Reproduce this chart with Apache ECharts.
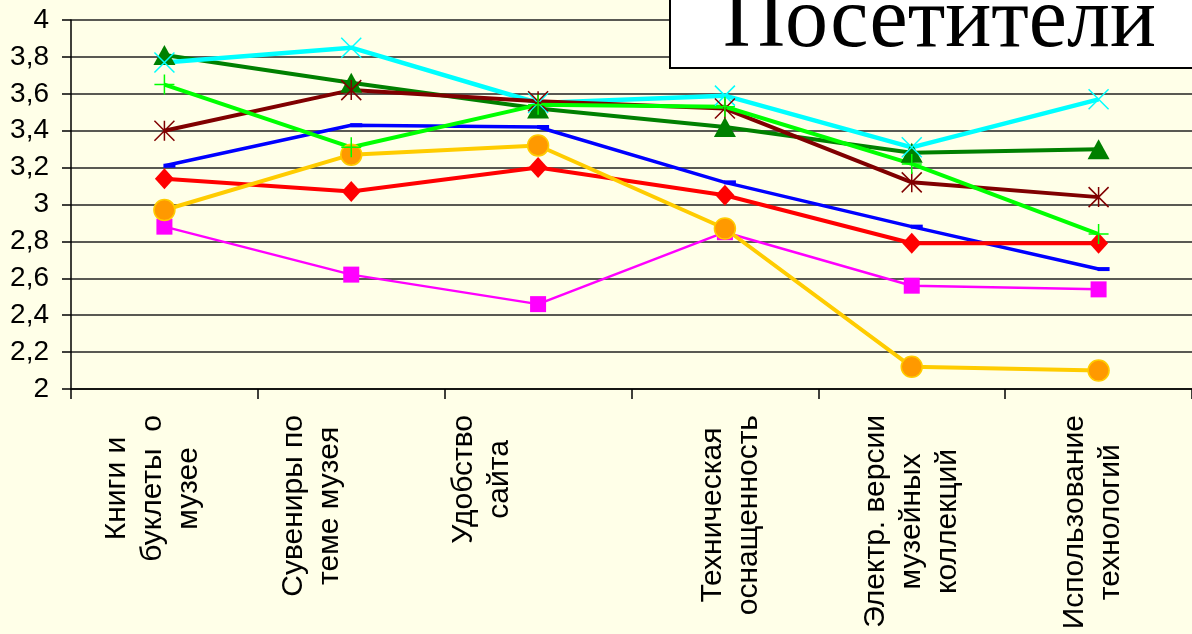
<!DOCTYPE html>
<html>
<head>
<meta charset="utf-8">
<script src="https://cdn.jsdelivr.net/npm/echarts@6/dist/echarts.min.js"></script>
<style>
html,body{margin:0;padding:0;background:#FFFFE8;}
#chart{width:1192px;height:634px;}
</style>
</head>
<body>
<div id="chart"></div>
<script>
const categories = [
  'Книги и\nбуклеты  о\nмузее',
  'Сувениры по\nтеме музея',
  'Удобство\nсайта',
  'Техническая\nоснащенность',
  'Электр. версии\nмузейных\nколлекций',
  'Использование\nтехнологий'
];
// [top, bottom] padding of each rotated label
const labelPad = [[0, 24], [0, 80], [0, 112], [12, 0], [0, 0], [0, 12]];
const yTicks = { min: 2, max: 4, step: 0.2 };
const titleText = 'Посетители';

const blueValues = [3.21, 3.43, 3.42, 3.12, 2.88, 2.65];
const redValues = [3.14, 3.07, 3.20, 3.05, 2.79, 2.79];
const magentaValues = [2.88, 2.62, 2.46, 2.85, 2.56, 2.54];
const orangeValues = [2.97, 3.27, 3.32, 2.87, 2.12, 2.10];
const darkGreenValues = [3.81, 3.66, 3.52, 3.42, 3.28, 3.30];
const cyanValues = [3.77, 3.85, 3.55, 3.59, 3.31, 3.57];
const darkRedValues = [3.40, 3.62, 3.56, 3.52, 3.12, 3.04];
const brightGreenValues = [3.65, 3.31, 3.54, 3.53, 3.22, 2.84];

const X_PATH = 'path://M0,0L10,10M10,0L0,10';
const STAR_PATH = 'path://M0,0L10,10M10,0L0,10M5,0L5,10';
const PLUS_PATH = 'path://M5,0L5,10M0,5L10,5';

function mk(name, data, lineColor, lineWidth, symbol, symbolSize, itemStyle, extra) {
  return Object.assign({
    name: name,
    type: 'line',
    data: data,
    symbol: symbol,
    symbolSize: symbolSize,
    showSymbol: true,
    lineStyle: { color: lineColor, width: lineWidth },
    itemStyle: itemStyle,
    emphasis: { disabled: true },
    animation: false
  }, extra || {});
}

const series = [
  mk('s1', magentaValues, '#FF00FF', 2.5, 'rect', 16, { color: '#FF00FF' }),
  mk('s2', blueValues, '#0000FF', 3.5, 'rect', [12, 4], { color: '#0000FF' }, { symbolOffset: [5, 0] }),
  mk('s3', redValues, '#FF0000', 4, 'diamond', [19, 21], { color: '#FF0000' }),
  mk('s4', orangeValues, '#FFCC00', 4, 'circle', 21, { color: '#FF9900', borderColor: '#FFCC00', borderWidth: 1.5 }),
  mk('s5', darkGreenValues, '#008000', 4, 'triangle', [22, 20], { color: '#008000' }),
  mk('s6', cyanValues, '#00FFFF', 4.5, X_PATH, 20, { color: '#00FFFF', borderColor: '#00FFFF', borderWidth: 1.5 }),
  mk('s7', darkRedValues, '#800000', 4, STAR_PATH, 20, { color: '#800000', borderColor: '#800000', borderWidth: 1.5 }),
  mk('s8', brightGreenValues, '#00FF00', 4, PLUS_PATH, 20, { color: '#00FF00', borderColor: '#00FF00', borderWidth: 1.5 })
];

const chart = echarts.init(document.getElementById('chart'), null, { renderer: 'canvas' });
chart.setOption({
  backgroundColor: '#FFFFE8',
  animation: false,
  grid: { left: 71, top: 20, bottom: 245, right: -13, containLabel: false },
  xAxis: {
    type: 'category',
    boundaryGap: true,
    data: categories.map((c, i) => ({ value: c, textStyle: { padding: [labelPad[i][0], 0, labelPad[i][1], 0] } })),
    axisLine: { show: true, lineStyle: { color: '#000', width: 1.5 } },
    axisTick: { show: true, length: 10, interval: 0, lineStyle: { color: '#000', width: 1.5 } },
    axisLabel: {
      rotate: 90,
      interval: 0,
      margin: 26,
      color: '#000',
      fontFamily: 'Liberation Sans',
      fontSize: 30,
      lineHeight: 36,
      formatter: v => v.split('\n').map(l => '{c|' + l + '}').join('\n'),
      rich: { c: { align: 'center', fontFamily: 'Liberation Sans', fontSize: 30, lineHeight: 36, color: '#000' } }
    },
    splitLine: { show: false }
  },
  yAxis: {
    type: 'value',
    min: yTicks.min,
    max: yTicks.max,
    interval: yTicks.step,
    axisLine: { show: true, lineStyle: { color: '#000', width: 1.5 } },
    axisTick: { show: true, length: 9, lineStyle: { color: '#000', width: 1.5 } },
    axisLabel: {
      margin: 22,
      color: '#000',
      fontFamily: 'Liberation Sans',
      fontSize: 28,
      formatter: v => String(+v.toFixed(1)).replace('.', ',')
    },
    splitLine: { show: true, lineStyle: { color: '#222', width: 1.5 } }
  },
  series: series,
  graphic: [
    {
      type: 'rect',
      z: 100,
      shape: { x: 670, y: -3, width: 540, height: 71 },
      style: { fill: '#FFFFFF', stroke: '#000', lineWidth: 2 }
    },
    {
      type: 'text',
      z: 101,
      x: 723,
      y: 23,
      style: {
        text: titleText,
        font: '86px "Liberation Serif"',
        fill: '#000',
        align: 'left',
        verticalAlign: 'middle'
      }
    }
  ]
});
</script>
</body>
</html>
